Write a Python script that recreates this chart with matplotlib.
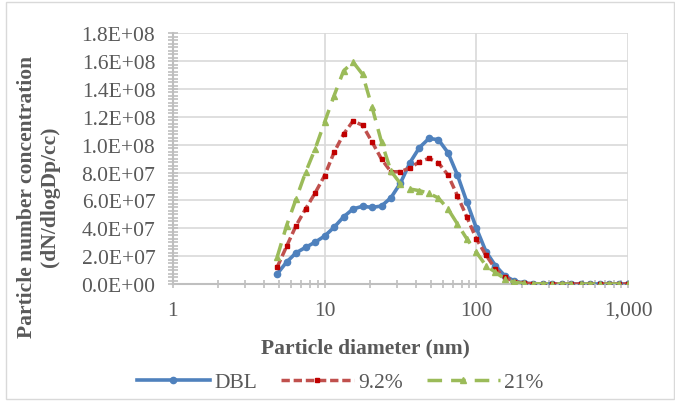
import matplotlib
matplotlib.use("Agg")
import matplotlib.pyplot as plt
from matplotlib.ticker import FixedLocator, MultipleLocator, FuncFormatter, LogLocator, NullFormatter
from matplotlib.patches import Rectangle

# particle diameter channels (nm)
dp = [4.87, 5.62, 6.49, 7.50, 8.66, 10.0, 11.55, 13.34, 15.40, 17.78,
      20.54, 23.71, 27.38, 31.62, 36.52, 42.17, 48.70, 56.23, 64.94, 74.99,
      86.60, 100.0, 115.5, 133.4, 154.0, 177.8, 205.4, 237.1, 273.8, 316.2,
      365.2, 421.7, 487.0, 562.3, 649.4, 749.9, 866.0, 1000.0]

# concentrations in units of 1e7 (dN/dlogDp/cc)
dbl = [0.72, 1.57, 2.24, 2.63, 3.00, 3.44, 4.07, 4.82, 5.39, 5.58,
       5.50, 5.60, 6.20, 7.25, 8.72, 9.80, 10.45, 10.36, 9.43, 7.82,
       5.87, 4.00, 2.33, 1.32, 0.58, 0.22, 0.06, 0.02, 0.01, 0.005,
       0.003, 0.002, 0.001, 0.001, 0.001, 0.0005, 0.0005, 0.0005]
b92 = [1.20, 2.70, 4.19, 5.39, 6.53, 7.78, 9.45, 10.77, 11.70, 11.40,
       10.20, 8.97, 8.05, 8.07, 8.33, 8.78, 9.02, 8.69, 7.83, 6.34,
       4.79, 3.23, 2.08, 1.08, 0.48, 0.17, 0.05, 0.02, 0.01, 0.005,
       0.003, 0.002, 0.001, 0.001, 0.001, 0.0005, 0.0005, 0.0005]
b21 = [1.92, 4.19, 6.10, 8.02, 9.69, 11.61, 13.52, 15.30, 15.94, 15.06,
       12.70, 10.20, 8.10, 7.20, 6.82, 6.70, 6.51, 6.17, 5.39, 4.31,
       3.23, 2.27, 1.32, 0.84, 0.36, 0.12, 0.04, 0.02, 0.01, 0.005,
       0.003, 0.002, 0.001, 0.001, 0.001, 0.0005, 0.0005, 0.0005]

labels = ["DBL", "9.2%", "21%"]
yticks = [0, 2e7, 4e7, 6e7, 8e7, 1e8, 1.2e8, 1.4e8, 1.6e8, 1.8e8]
xticks = [1, 10, 100, 1000]

plt.rcParams["font.family"] = ["Liberation Serif", "DejaVu Serif"]
txt = "#595959"
grid_c = "#d9d9d9"
axis_c = "#bfbfbf"

W, H = 675, 402
fig = plt.figure(figsize=(W / 100, H / 100), dpi=100)
ax = fig.add_axes([172.7 / W, 1 - 285 / H, (628.3 - 172.7) / W, (285 - 34.3) / H])

scale = 1e7
ax.plot(dp, [v * scale for v in dbl], color="#4f81bd", lw=2.6, marker="o", ms=4.5,
        mfc="#4f81bd", mec="#4f81bd", label=labels[0], zorder=3)
ax.plot(dp, [v * scale for v in b92], color="#c0504d", lw=2.5, dashes=(2.4, 1.1),
        marker="s", ms=2.8, mfc="#c00000", mec="#c00000", label=labels[1], zorder=4)
ax.plot(dp, [v * scale for v in b21], color="#9bbb59", lw=2.5, dashes=(4.2, 2.6),
        marker="^", ms=4.2, mfc="#9bbb59", mec="#9bbb59", label=labels[2], zorder=5)

ax.set_xscale("log")
ax.set_xlim(1, 1000)
ax.set_ylim(0, 1.8e8)
ax.xaxis.set_major_locator(FixedLocator(xticks))
ax.xaxis.set_major_formatter(FuncFormatter(lambda v, p: f"{int(round(v)):,}"))
ax.xaxis.set_minor_locator(LogLocator(base=10, subs=range(2, 10)))
ax.xaxis.set_minor_formatter(NullFormatter())
ax.yaxis.set_major_locator(FixedLocator(yticks))
ax.yaxis.set_major_formatter(FuncFormatter(lambda v, p: f"{v:.1E}"))
ax.yaxis.set_minor_locator(MultipleLocator(2.5e6))

ax.grid(True, which="major", color=grid_c, lw=1.2, zorder=0)
ax.set_axisbelow(True)
for s in ["top", "right"]:
    ax.spines[s].set_visible(False)
for s in ["left", "bottom"]:
    ax.spines[s].set_color(axis_c)
    ax.spines[s].set_linewidth(1.5)

ax.tick_params(which="both", direction="inout", color=axis_c, width=1.2,
               labelsize=15.5, labelcolor=txt)
ax.tick_params(axis="x", which="both", length=6, pad=9)
ax.tick_params(axis="y", which="both", length=7, pad=9)

fig.text(365 / W, 1 - 348 / H, "Particle diameter (nm)", ha="center", va="center",
         fontsize=15.5, fontweight="bold", color=txt)
fig.text(27 / W, 1 - 197 / H, "Particle number concentration", ha="center", va="center",
         rotation=90, fontsize=15.5, fontweight="bold", color=txt)
fig.text(50 / W, 1 - 197 / H, "(dN/dlogDp/cc)", ha="center", va="center",
         rotation=90, fontsize=15.5, fontweight="bold", color=txt)

h, l = ax.get_legend_handles_labels()
fig.legend(h, l, loc="center", bbox_to_anchor=(340 / W, 1 - 383 / H), ncol=3,
           frameon=False, fontsize=15.5, labelcolor=txt, handlelength=3.4,
           handletextpad=0.2, columnspacing=1.1, borderpad=0)

fig.patches.append(Rectangle((6 / W, 2 / H), 668 / W, 397 / H, transform=fig.transFigure,
                             fill=False, edgecolor=grid_c, lw=1.0))

fig.savefig("out.png", dpi=100)
